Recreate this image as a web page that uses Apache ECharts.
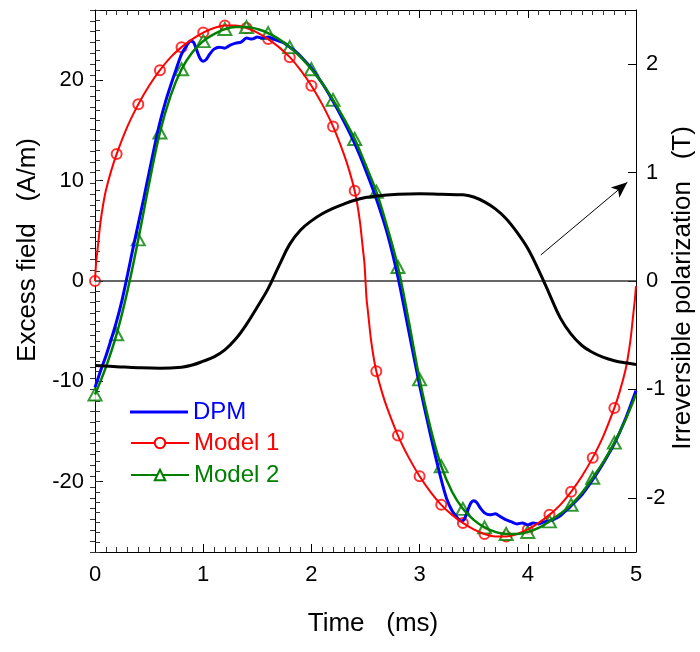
<!DOCTYPE html>
<html><head><meta charset="utf-8">
<script src="https://cdn.jsdelivr.net/npm/echarts@6/dist/echarts.min.js"></script>
<style>html,body{margin:0;padding:0;background:#fff}#c{width:700px;height:652px}</style>
</head><body><div id="c"></div>
<script>
// ---------- data ----------
const timeDPM = [0.00,0.05,0.10,0.15,0.20,0.25,0.30,0.35,0.40,0.45,0.50,0.55,0.60,0.65,0.70,0.75,0.80,0.85,0.88,0.91,0.94,0.97,1.00,1.03,1.06,1.10,1.15,1.20,1.25,1.30,1.35,1.40,1.45,1.50,1.55,1.60,1.65,1.70,1.75,1.80,1.85,1.90,2.00,2.10,2.20,2.30,2.40,2.50,2.60,2.70,2.80,2.90,3.00,3.10,3.20,3.25,3.30,3.35,3.38,3.41,3.44,3.47,3.50,3.53,3.56,3.60,3.65,3.70,3.75,3.80,3.85,3.90,3.95,4.00,4.05,4.10,4.15,4.20,4.25,4.30,4.35,4.40,4.50,4.60,4.70,4.80,4.90,5.00];
const dpm = [-10.6,-9.0,-7.5,-5.8,-4.0,-1.9,0.6,3.2,5.7,8.2,10.8,13.4,15.8,17.8,19.5,21.1,22.6,23.5,23.9,23.8,23.0,22.2,21.9,22.1,22.6,23.1,23.3,23.2,23.5,23.7,23.8,24.2,24.1,24.3,24.2,24.3,24.1,23.9,23.7,23.3,22.9,22.4,21.2,19.7,17.9,15.9,13.7,11.1,8.2,4.8,0.4,-5.0,-10.4,-15.3,-19.8,-21.7,-22.9,-23.6,-23.9,-23.8,-23.0,-22.2,-21.9,-22.1,-22.6,-23.1,-23.3,-23.2,-23.5,-23.8,-24.0,-24.2,-24.1,-24.3,-24.1,-24.2,-24.0,-23.9,-23.7,-23.4,-22.9,-22.4,-21.3,-19.8,-18.1,-16.2,-13.8,-10.9];

const timeM1 = [0.00,0.01,0.02,0.03,0.05,0.075,0.10,0.15,0.20,0.30,0.40,0.50,0.60,0.70,0.80,0.90,1.00,1.10,1.20,1.30,1.40,1.50,1.60,1.70,1.80,1.90,2.00,2.10,2.20,2.30,2.35,2.40,2.425,2.45,2.47,2.48,2.49,2.50,2.51,2.52,2.53,2.55,2.575,2.60,2.65,2.70,2.80,2.90,3.00,3.10,3.20,3.30,3.40,3.50,3.60,3.70,3.80,3.90,4.00,4.10,4.20,4.30,4.40,4.50,4.60,4.70,4.80,4.85,4.90,4.925,4.95,4.97,4.98,4.99,5.00];
const model1 = [0,1.8,2.8,3.8,5.8,7.6,9.0,11.0,12.65,15.4,17.6,19.45,21.0,22.3,23.3,24.1,24.75,25.2,25.45,25.45,25.2,24.75,24.1,23.3,22.3,21.0,19.45,17.6,15.4,12.65,11.0,9.0,7.6,5.8,3.8,2.8,1.8,0,-1.8,-2.8,-3.8,-5.8,-7.6,-9.0,-11.0,-12.65,-15.4,-17.6,-19.45,-21.0,-22.3,-23.3,-24.1,-24.75,-25.2,-25.45,-25.45,-25.2,-24.75,-24.1,-23.3,-22.3,-21.0,-19.45,-17.6,-15.4,-12.65,-11.0,-9.0,-7.6,-5.8,-3.8,-2.8,-1.8,-0.5];

const timeM2 = [0.0,0.1,0.2,0.3,0.4,0.5,0.6,0.7,0.8,0.9,1.0,1.1,1.2,1.3,1.4,1.5,1.6,1.7,1.8,1.9,2.0,2.1,2.2,2.3,2.4,2.5,2.6,2.7,2.8,2.9,3.0,3.1,3.2,3.3,3.4,3.5,3.6,3.7,3.8,3.9,4.0,4.1,4.2,4.3,4.4,4.5,4.6,4.7,4.8,4.9,5.0];
const model2 = [-11.3,-8.6,-5.3,-1.0,4.15,9.7,14.8,18.5,21.1,22.8,23.9,24.6,25.1,25.3,25.3,25.1,24.7,24.1,23.3,22.3,21.1,19.7,18.05,16.2,14.15,11.6,8.9,5.4,1.4,-4.0,-9.8,-14.6,-18.45,-21.0,-22.7,-23.8,-24.55,-25.0,-25.2,-25.2,-25.0,-24.6,-23.95,-23.2,-22.3,-21.1,-19.6,-18.0,-16.1,-13.9,-11.3];

const timeP = [0.0,0.2,0.4,0.6,0.8,0.9,1.0,1.1,1.2,1.3,1.4,1.5,1.6,1.7,1.8,1.9,2.0,2.1,2.2,2.3,2.4,2.5,2.6,2.8,3.0,3.2,3.4,3.5,3.6,3.7,3.8,3.9,4.0,4.1,4.2,4.3,4.4,4.5,4.6,4.7,4.8,4.9,5.0];
const polarization = [-0.78,-0.79,-0.80,-0.805,-0.795,-0.775,-0.74,-0.70,-0.635,-0.535,-0.40,-0.24,-0.07,0.14,0.34,0.47,0.555,0.62,0.67,0.71,0.745,0.77,0.785,0.80,0.805,0.80,0.795,0.775,0.73,0.665,0.575,0.45,0.30,0.10,-0.12,-0.34,-0.49,-0.595,-0.66,-0.705,-0.735,-0.755,-0.77];

const xRange = [0, 5];
const leftRange = [-27, 27];
const rightRange = [-2.5, 2.5];
const seriesNames = ['DPM', 'Model 1', 'Model 2'];
const xTitle = 'Time   (ms)';
const leftTitle = 'Excess field   (A/m)';
const rightTitle = 'Irreversible polarization   (T)';
const arrowFrom = [4.12, 0.24];
const arrowTo = [4.92, 0.91];

// ---------- helpers ----------
const pair = (ts, vs) => ts.map((t, i) => [t, vs[i]]);
const isMarker = t => Math.abs(t * 5 - Math.round(t * 5)) < 1e-9 && t < 4.9;
const FONT = "'Liberation Sans', Arial, Helvetica, sans-serif";
const BLUE = '#0000ff', RED = '#ff0000', GREEN = '#008000';

const m1 = pair(timeM1, model1);
const m2 = pair(timeM2, model2);

const chart = echarts.init(document.getElementById('c'), null, {renderer: 'canvas'});

const xBase = (pos, labels) => ({
  type: 'value', position: pos, min: xRange[0], max: xRange[1], interval: 1,
  axisLine: {show: true, onZero: false, lineStyle: {color: '#000', width: 1}},
  axisTick: {show: true, inside: true, length: 8, lineStyle: {color: '#000', width: 1}},
  minorTick: {show: true, splitNumber: 10, length: 5, lineStyle: {color: '#333', width: 1}},
  axisLabel: labels ? {show: true, fontSize: 22, color: '#000', fontFamily: FONT, margin: 12} : {show: false},
  splitLine: {show: false}, minorSplitLine: {show: false}
});

const yMain = (pos, range, margin) => ({
  type: 'value', position: pos, min: range[0], max: range[1], splitNumber: 5,
  axisLine: {show: true, onZero: false, lineStyle: {color: '#000', width: 1}},
  axisTick: {show: true, inside: true, length: 8, lineStyle: {color: '#000', width: 1}},
  axisLabel: {show: true, fontSize: 22, color: '#000', fontFamily: FONT, margin: margin, showMinLabel: false, showMaxLabel: false},
  splitLine: {show: false}
});
const yMinor = (pos, range, step) => ({
  type: 'value', position: pos, min: range[0], max: range[1], interval: step,
  axisLine: {show: false}, axisLabel: {show: false},
  axisTick: {show: true, inside: true, length: 5, lineStyle: {color: '#333', width: 1}},
  splitLine: {show: false}
});

const legendItem = (name, color, top, icon, h) => ({
  data: [icon ? {name: name, icon: icon} : name],
  left: 130, top: top, padding: 0, itemWidth: 58, itemHeight: h,
  textStyle: {color: color, fontSize: 24, fontFamily: FONT},
  selectedMode: false
});

const titleStyle = txt => ({text: txt, fontSize: 26, fontFamily: FONT, fill: '#000',
  align: 'center', verticalAlign: 'middle', textAlign: 'center', textVerticalAlign: 'middle'});

const option = {
  animation: false,
  backgroundColor: '#fff',
  grid: {left: 95, right: 64, top: 10, bottom: 100, containLabel: false},
  xAxis: [xBase('bottom', true), xBase('top', false)],
  yAxis: [
    yMain('left', leftRange, 11),
    yMinor('left', leftRange, 1),
    yMain('right', rightRange, 10),
    yMinor('right', rightRange, 0.1)
  ],
  legend: [
    legendItem(seriesNames[0], BLUE, 400, 'rect', 3),
    legendItem(seriesNames[1], RED, 431, null, 13),
    legendItem(seriesNames[2], GREEN, 463, null, 13)
  ],
  graphic: [
    {type: 'text', x: 373, y: 624, style: titleStyle(xTitle)},
    {type: 'text', x: 28, y: 250, rotation: Math.PI / 2, style: titleStyle(leftTitle)},
    {type: 'text', x: 683, y: 288, rotation: Math.PI / 2, style: titleStyle(rightTitle)}
  ],
  series: [
    {name: 'zero', type: 'line', xAxisIndex: 0, yAxisIndex: 0, data: [[xRange[0], 0], [xRange[1], 0]],
     symbol: 'none', silent: true, lineStyle: {color: '#333', width: 1.5}},
    {name: seriesNames[0], type: 'line', xAxisIndex: 0, yAxisIndex: 0, data: pair(timeDPM, dpm),
     symbol: 'none', smooth: 0.25, color: BLUE, lineStyle: {color: BLUE, width: 3}},
    {name: seriesNames[1], type: 'line', xAxisIndex: 0, yAxisIndex: 0, data: m1,
     symbol: 'emptyCircle', showSymbol: false, smooth: 0.35, color: RED,
     itemStyle: {color: RED, borderWidth: 1}, lineStyle: {color: RED, width: 2}},
    {name: 'm1marks', type: 'scatter', xAxisIndex: 0, yAxisIndex: 0, data: m1.filter(p => isMarker(p[0])),
     symbol: 'emptyCircle', symbolSize: 10, itemStyle: {color: RED, borderWidth: 1}, clip: false},
    {name: seriesNames[2], type: 'line', xAxisIndex: 0, yAxisIndex: 0, data: m2,
     symbol: 'emptyTriangle', showSymbol: false, smooth: 0.4, color: GREEN,
     itemStyle: {color: GREEN, borderWidth: 1}, lineStyle: {color: GREEN, width: 2.5}},
    {name: 'm2marks', type: 'scatter', xAxisIndex: 0, yAxisIndex: 0, data: m2.filter(p => isMarker(p[0])),
     symbol: 'emptyTriangle', symbolSize: [13, 12], itemStyle: {color: GREEN, borderWidth: 1}, clip: false},
    {name: 'Polarization', type: 'line', xAxisIndex: 0, yAxisIndex: 2, data: pair(timeP, polarization),
     symbol: 'none', smooth: 0.4, color: '#000', lineStyle: {color: '#000', width: 3},
     markLine: {silent: true, animation: false, symbol: ['none', 'arrow'], symbolSize: [10, 16],
       label: {show: false}, lineStyle: {color: '#000', width: 1, type: 'solid'},
       data: [[{coord: arrowFrom}, {coord: arrowTo}]]}}
  ]
};
chart.setOption(option);
</script></body></html>
